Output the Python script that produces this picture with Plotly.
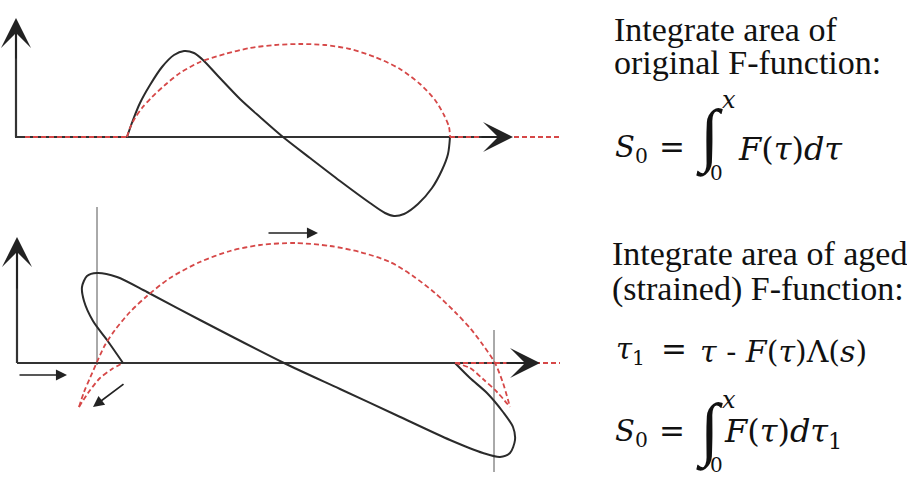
import plotly.graph_objects as go

# ---- top panel (original F-function) ----
top_axis_y = 137
top_axis_x = [15, 500]
top_yaxis_x = [16, 16]
top_yaxis_y = [137, 30]

top_black_x = [127, 133, 140, 150, 162, 174, 184, 194, 203, 218, 240, 260, 283, 310, 340, 370, 385, 394, 404, 418, 432, 442, 448, 450]
top_black_y = [137, 120, 103, 85, 67, 55, 51, 53, 60, 76, 99, 117, 137, 158, 181, 203, 213, 216, 214, 204, 188, 170, 154, 137]

top_red_x = [127, 130, 135, 142, 152, 165, 180, 200, 225, 250, 275, 300, 325, 350, 375, 400, 420, 435, 444, 449, 450]
top_red_y = [137, 128, 118, 108, 97, 85, 73, 62, 54, 48, 45, 44, 45, 49, 57, 69, 84, 100, 115, 127, 137]

top_red_left_x = [25, 127]
top_red_right_x = [450, 560]

# ---- bottom panel (aged / strained F-function) ----
bot_axis_y = 363
bot_axis_x = [17, 525]
bot_yaxis_x = [17, 17]
bot_yaxis_y = [363, 250]

bot_black_x = [123, 107, 93, 84, 82, 87, 97, 117, 147, 200, 284, 340, 396, 450, 483, 500, 510, 515, 513, 503, 487, 470, 455]
bot_black_y = [363, 340, 321, 301, 287, 276, 273, 277, 292, 320, 363, 389, 415, 440, 453, 457, 453, 440, 427, 412, 393, 378, 363]

bot_red_x = [79, 84, 90, 97, 105, 115, 130, 147, 170, 200, 230, 260, 295, 330, 360, 390, 413, 435, 455, 470, 483, 495, 503, 510]
bot_red_y = [407, 392, 378, 362, 345, 330, 312, 296, 278, 262, 251, 245, 243, 246, 252, 262, 276, 293, 312, 328, 345, 363, 383, 407]

bot_red_inner_left_x = [79, 88, 100, 112, 123]
bot_red_inner_left_y = [407, 393, 378, 369, 363]
bot_red_inner_right_x = [455, 470, 483, 497, 510]
bot_red_inner_right_y = [363, 368, 379, 392, 407]
bot_red_axis_x = [455, 560]

vline_left_x = [97, 97]
vline_left_y = [207, 365]
vline_right_x = [494, 494]
vline_right_y = [330, 472]

# arrows: (x_start, y_start, x_tip, y_tip)
axis_arrows = [
    (16, 60, 16, 18),
    (480, 137, 513, 137),
    (17, 290, 17, 237),
    (505, 363, 540, 363),
]
small_arrows = [
    (18, 375, 67, 375),
    (267, 233, 318, 233),
    (125, 383, 93, 407),
]

BLACK = "#2b2b2b"
AXIS = "#333333"
RED = "#d64848"

fig = go.Figure()


def line(x, y, color, width, dash="solid", spline=True):
    fig.add_trace(go.Scatter(
        x=x, y=y, mode="lines",
        line=dict(color=color, width=width, dash=dash,
                  shape="spline" if spline else "linear", smoothing=0.8),
        hoverinfo="skip", showlegend=False))


# thin vertical guides
line(vline_left_x, vline_left_y, "#555555", 1, spline=False)
line(vline_right_x, vline_right_y, "#555555", 1, spline=False)

# axes
line(top_axis_x, [top_axis_y, top_axis_y], AXIS, 2.2, spline=False)
line(top_yaxis_x, top_yaxis_y, AXIS, 2.2, spline=False)
line(bot_axis_x, [bot_axis_y, bot_axis_y], AXIS, 2.2, spline=False)
line(bot_yaxis_x, bot_yaxis_y, AXIS, 2.2, spline=False)

# curves
line(top_black_x, top_black_y, BLACK, 2)
line(bot_black_x, bot_black_y, BLACK, 2)

dash = "5px,3px"
line(top_red_x, top_red_y, RED, 1.8, dash)
line(top_red_left_x, [top_axis_y, top_axis_y], RED, 1.8, dash, spline=False)
line(top_red_right_x, [top_axis_y, top_axis_y], RED, 1.8, dash, spline=False)
line(bot_red_x, bot_red_y, RED, 1.8, dash)
line(bot_red_inner_left_x, bot_red_inner_left_y, RED, 1.8, dash)
line(bot_red_inner_right_x, bot_red_inner_right_y, RED, 1.8, dash)
line(bot_red_axis_x, [bot_axis_y, bot_axis_y], RED, 1.8, dash, spline=False)

for x0, y0, x1, y1 in axis_arrows:
    fig.add_annotation(x=x1, y=y1, ax=x0, ay=y0, xref="x", yref="y",
                       axref="x", ayref="y", text="", showarrow=True,
                       arrowhead=3, arrowsize=2.5, arrowwidth=2,
                       arrowcolor="#222222")
for x0, y0, x1, y1 in small_arrows:
    fig.add_annotation(x=x1, y=y1, ax=x0, ay=y0, xref="x", yref="y",
                       axref="x", ayref="y", text="", showarrow=True,
                       arrowhead=2, arrowsize=1.3, arrowwidth=1.7,
                       arrowcolor="#222222")

# ---- text ----
SERIF = "Liberation Serif"
MATH = "DejaVu Serif"
INK = "#111111"

text_items = [
    (612, 29, "Integrate area of"),
    (612, 62, "original F-function:"),
    (610, 253, "Integrate area of aged"),
    (610, 289, "(strained) F-function:"),
]
for x, y, t in text_items:
    fig.add_annotation(x=x, y=y, text=t, showarrow=False, xanchor="left",
                       yanchor="middle", font=dict(family=SERIF, size=34, color=INK))

# (x, y, text, size, anchor, family)
math_items = [
    # top equation
    (613, 149, "<i>S</i><sub>0</sub>", 29, "left", MATH),
    (672, 147, "=", 31, "center", MATH),
    (709, 136, "<i>∫</i>", 70, "center", SERIF),
    (729, 100, "<i>x</i>", 24, "center", MATH),
    (716, 173, "0", 20, "center", MATH),
    (736, 149, "<i>F</i>(<i>τ</i>)<i>dτ</i>", 32, "left", MATH),
    # tau_1 definition
    (614, 351, "<i>τ</i><sub>1</sub>", 29, "left", MATH),
    (674, 349, "=", 31, "center", MATH),
    (698, 351, "<i>τ</i> - <i>F</i>(<i>τ</i>)Λ(<i>s</i>)", 30, "left", MATH),
    # bottom equation
    (613, 433, "<i>S</i><sub>0</sub>", 29, "left", MATH),
    (672, 431, "=", 31, "center", MATH),
    (709, 430, "<i>∫</i>", 70, "center", SERIF),
    (729, 400, "<i>x</i>", 24, "center", MATH),
    (716, 465, "0", 20, "center", MATH),
    (722, 433, "<i>F</i>(<i>τ</i>)<i>dτ</i><sub>1</sub>", 32, "left", MATH),
]
for x, y, t, s, anc, fam in math_items:
    fig.add_annotation(x=x, y=y, text=t, showarrow=False, xanchor=anc,
                       yanchor="middle", font=dict(family=fam, size=s, color=INK))

fig.update_xaxes(range=[0, 907], visible=False, fixedrange=True)
fig.update_yaxes(range=[479, 0], visible=False, fixedrange=True)
fig.update_layout(width=907, height=479, margin=dict(l=0, r=0, t=0, b=0),
                  plot_bgcolor="white", paper_bgcolor="white")

fig.write_html("out.html", config={"displayModeBar": False},
               post_script="document.body.style.margin='0px';")
